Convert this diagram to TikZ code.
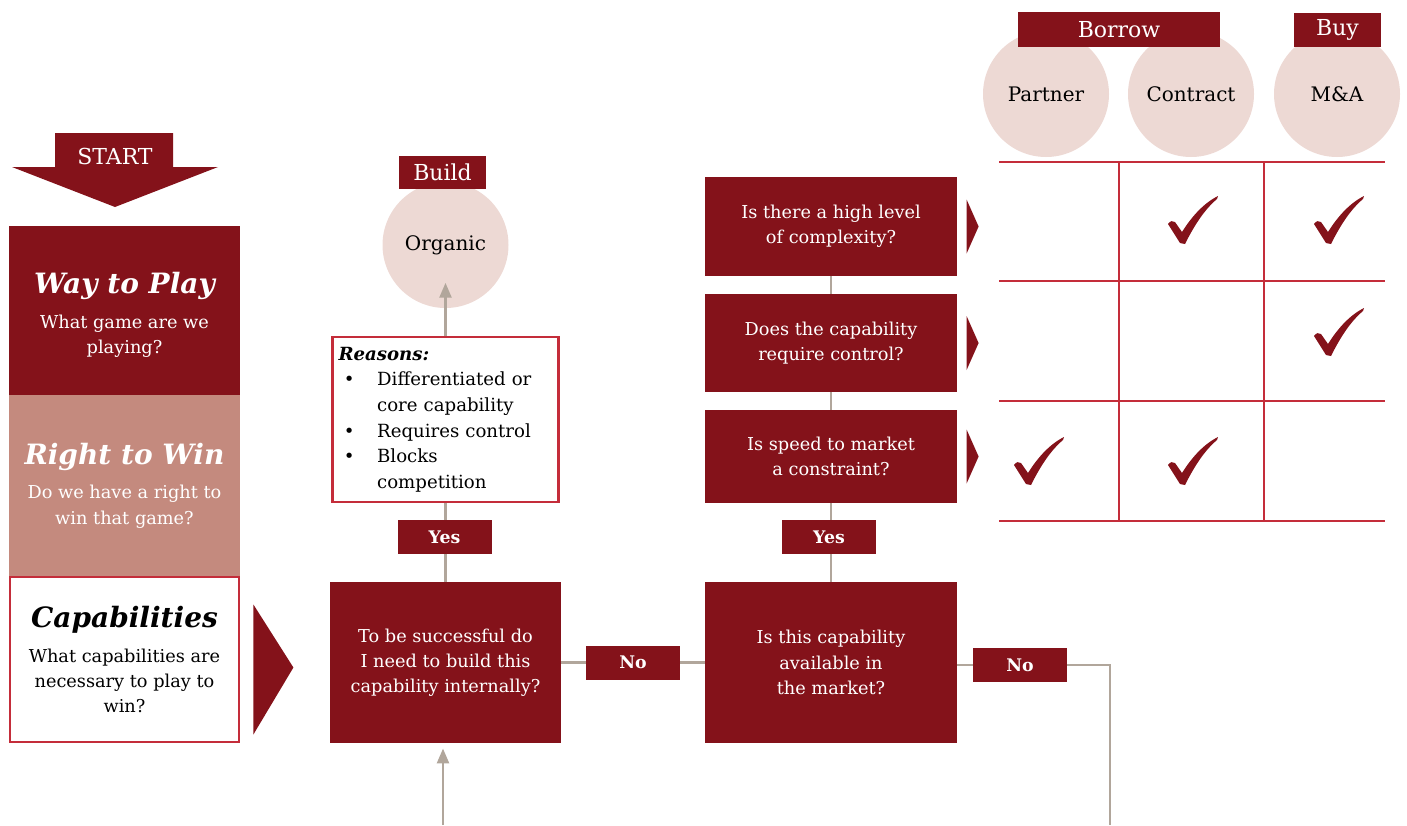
\documentclass[tikz,border=0pt]{standalone}
\usepackage{fontspec}
\setmainfont{DejaVu Serif}
\usepackage{tikz}
\usetikzlibrary{arrows.meta, positioning, calc}
\definecolor{capred}{HTML}{84121A}
\definecolor{caprose}{HTML}{C48A7E}
\definecolor{capblush}{HTML}{EDD9D4}
\definecolor{capline}{HTML}{C42D3A}
\definecolor{capgrey}{HTML}{B1A69B}
\newcommand{\pxu}{0.75pt}
\newcommand{\bodyfont}{\fontsize{13.3}{18.9}\selectfont}
\newcommand{\headfont}{\fontsize{21}{24}\selectfont\bfseries\itshape}

\begin{document}
\begin{tikzpicture}[
  x=\pxu, y=-\pxu,
  every node/.style={font=\bodyfont, align=center, inner sep=0pt},
  redbox/.style 2 args={fill=capred, text=white, minimum width=#1*\pxu, minimum height=#2*\pxu},
  linebox/.style 2 args={draw=capline, line width=1.6pt, fill=white, minimum width=#1*\pxu, minimum height=#2*\pxu},
  tag/.style={redbox={94}{34}, font=\fontsize{13}{16}\selectfont\bfseries},
  head/.style={font=\fontsize{16.5}{20}\selectfont},
  option/.style={circle, fill=capblush, minimum size=126*\pxu, font=\fontsize{15}{18}\selectfont},
  flow/.style={draw=capgrey, line width=1.6pt},
  flowarrow/.style={flow, -{Triangle[width=9pt, length=11pt]}},
  tickmark/.pic={\fill[capred] (-2,0) -- (-14,-19) .. controls (-12,-22) and (-9,-23) .. (-7,-21) -- (0,-11) .. controls (10,-27) and (22,-40) .. (36,-47) -- (35,-44) .. controls (22,-33) and (12,-17) .. (3,1) -- cycle;}
]
\useasboundingbox (0,0) rectangle (1407,825);

\fill[capred] (55,133) -- (173,133) -- (173,167) -- (218,167) -- (115,207) -- (12,167) -- (55,167) -- cycle;
\node[text=white, head] (start) at (115,156) {START};

\node[redbox={231}{169}] (play) at (124.5,310.5) {\mbox{}\\[4pt]{\headfont Way to Play}\\[7pt]What game are we\\playing?};
\node[redbox={231}{181}, fill=caprose] (win) at (124.5,485.5) {{\headfont Right to Win}\\[7pt]Do we have a right to\\win that game?};
\node[linebox={229}{165}] (cap) at (124.5,659.5) {{\headfont Capabilities}\\[7pt]What capabilities are\\necessary to play to\\win?};
\fill[capred] ([xshift=10pt]cap.east) ++(0,-55) -- ++(40,63) -- ++(-40,67) -- cycle;

\node[redbox={231}{161}] (build?) at (445.5,662.5) {To be successful do\\I need to build this\\capability internally?};
\node[redbox={252}{161}] (market) at (831,662.5) {Is this capability\\available in\\the market?};
\node[redbox={252}{99}] (complex) at (831,226.5) {Is there a high level\\of complexity?};
\node[redbox={252}{98}] (control) at (831,343) {Does the capability\\require control?};
\node[redbox={252}{93}] (speed) at (831,456.5) {Is speed to market\\a constraint?};
\foreach \q in {complex, control, speed}
  \fill[capred] ([xshift=7pt]\q.east) ++(0,-27) -- ++(12,27) -- ++(-12,27) -- cycle;

\node[linebox={226}{165}, text width=214*\pxu, align=left, font=\fontsize{13.6}{19.2}\selectfont] (reasons) at (445.5,419.5)
  {{\bfseries\itshape Reasons:}\\
   \makebox[29pt][l]{\hspace{4pt}\textbullet}Differentiated or\\
   \makebox[29pt][l]{}core capability\\
   \makebox[29pt][l]{\hspace{4pt}\textbullet}Requires control\\
   \makebox[29pt][l]{\hspace{4pt}\textbullet}Blocks\\
   \makebox[29pt][l]{}competition};

\node[option] (organic) at (445.5,245) {Organic};
\node[redbox={87}{33}, head] (build) at (442.5,172.5) {Build};

\node[option] (partner) at (1046,94) {Partner};
\node[option] (contract) at (1191,94) {Contract};
\node[option] (ma) at (1337,94) {M\&A};
\node[redbox={202}{35}, head] (borrow) at (1119,29.5) {Borrow};
\node[redbox={87}{34}, head] (buy) at (1337.5,30) {Buy};

\foreach \y in {162,281,401,521}
  \draw[capline, line width=0.9pt] (999,\y) -- (1385,\y);
\foreach \x in {1119,1264}
  \draw[capline, line width=0.9pt] (\x,162) -- (\x,521);
\pic at (1182,243) {tickmark};
\pic at (1328,243) {tickmark};
\pic at (1328,355) {tickmark};
\pic at (1028,484) {tickmark};
\pic at (1182,484) {tickmark};

\coordinate (entry) at (443,825);
\coordinate (bend) at (1110,665);
\coordinate (exit) at (1110,825);
\draw[flowarrow] (entry) -- ([yshift=-4pt]entry |- build?.south);
\draw[flow] (build?.north) -- (reasons.south);
\draw[flowarrow] (reasons.north) -- ([yshift=19pt]organic.south);
\draw[flow] (build?.east) -- (market.west);
\draw[flow] (market.north) -- (speed.south);
\draw[flow] (speed.north) -- (control.south);
\draw[flow] (control.north) -- (complex.south);
\draw[flow] (market.east |- bend) -- (bend) -- (exit);

\node[tag] (yes1) at (444.5,537) {Yes};
\node[tag] (yes2) at (829,537) {Yes};
\node[tag] (no1) at (633,662.5) {No};
\node[tag] (no2) at (1020,665) {No};
\end{tikzpicture}
\end{document}
